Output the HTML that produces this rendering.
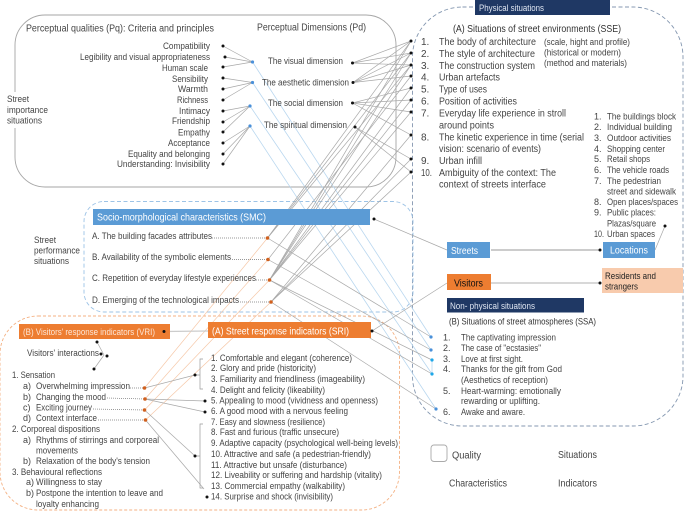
<!DOCTYPE html>
<html><head><meta charset="utf-8"><style>
html,body{margin:0;padding:0;background:#fff;width:685px;height:512px;overflow:hidden}
svg{display:block;filter:blur(.3px)}
text{font-family:"Liberation Sans",sans-serif;font-size:9px;fill:#444;lengthAdjust:spacingAndGlyphs}
.g line{stroke:#a8a8a8;stroke-width:.7}
.b line{stroke:#b9d7ef;stroke-width:.8}
.o line{stroke:#f6c8a8;stroke-width:.7}
.k circle{fill:#111;r:1.5px}
.bd circle{fill:#4a90d9;r:1.6px}
.od circle{fill:#d0601e;r:1.8px}
.w{fill:#fff}
.d line{stroke:#777;stroke-width:.7;stroke-dasharray:1 1}
</style></head><body>
<svg width="685" height="512" viewBox="0 0 685 512" xmlns="http://www.w3.org/2000/svg">
<rect width="685" height="512" fill="#fff"/>
<!-- containers -->
<rect x="15" y="15" width="381" height="172" rx="30" fill="none" stroke="#a6a6a6" stroke-width=".9"/>
<rect x="5" y="92" width="20" height="36" fill="#fff"/>
<rect x="412.5" y="7" width="270.5" height="419" rx="50" fill="none" stroke="#8497b0" stroke-width=".9" stroke-dasharray="4 2.5"/>
<rect x="84" y="201.5" width="329" height="110.5" rx="20" fill="none" stroke="#9dc3e6" stroke-width=".9" stroke-dasharray="4 2.5"/>
<rect x="0" y="316" width="399.5" height="194" rx="38" fill="none" stroke="#f4b183" stroke-width=".9" stroke-dasharray="3 2"/>
<!-- blue connectors -->
<g class="b">
<line x1="252.5" y1="62" x2="431" y2="337"/><line x1="252.5" y1="82.5" x2="431" y2="350"/>
<line x1="250" y1="106" x2="432" y2="374"/><line x1="250" y1="126" x2="436" y2="409"/>
<line x1="432" y1="360" x2="432" y2="374"/>
</g>
<!-- orange connectors -->
<g class="o">
<line x1="267.5" y1="238" x2="144.5" y2="388"/><line x1="268" y1="259.5" x2="145" y2="399"/>
<line x1="269.5" y1="280" x2="144.5" y2="410"/><line x1="271" y1="302" x2="145.5" y2="420"/>
</g>
<!-- gray connectors -->
<g class="g">
<line x1="223" y1="46" x2="252.5" y2="62"/><line x1="225" y1="57" x2="252.5" y2="62"/><line x1="223" y1="67" x2="252.5" y2="62"/>
<line x1="223" y1="78" x2="252.5" y2="82.5"/><line x1="223" y1="89" x2="252.5" y2="82.5"/><line x1="223" y1="100" x2="252.5" y2="82.5"/>
<line x1="223" y1="111" x2="250" y2="106"/><line x1="223" y1="122" x2="250" y2="106"/><line x1="223" y1="132" x2="250" y2="106"/>
<line x1="223" y1="143" x2="250" y2="126"/><line x1="223" y1="154" x2="250" y2="126"/><line x1="223" y1="164" x2="250" y2="126"/>
<line x1="352.5" y1="63" x2="411" y2="41"/><line x1="352.5" y1="63" x2="411" y2="53"/><line x1="352.5" y1="63" x2="411" y2="65"/>
<line x1="353" y1="82.5" x2="411" y2="41"/><line x1="353" y1="82.5" x2="411" y2="53"/><line x1="353" y1="82.5" x2="411" y2="65"/><line x1="353" y1="82.5" x2="411" y2="76"/>
<line x1="352.5" y1="103" x2="411" y2="88"/><line x1="352.5" y1="103" x2="411" y2="100"/><line x1="352.5" y1="103" x2="411" y2="112"/><line x1="352.5" y1="103" x2="411" y2="135"/>
<line x1="355" y1="127" x2="411" y2="159"/><line x1="355" y1="127" x2="411" y2="172"/>
<line x1="267.5" y1="238" x2="411" y2="41"/><line x1="267.5" y1="238" x2="411" y2="53"/><line x1="267.5" y1="238" x2="411" y2="65"/>
<line x1="268" y1="259.5" x2="411" y2="76"/><line x1="269.5" y1="280" x2="411" y2="41"/><line x1="269.5" y1="280" x2="411" y2="53"/><line x1="269.5" y1="280" x2="411" y2="65"/>
<line x1="269.5" y1="280" x2="411" y2="88"/><line x1="269.5" y1="280" x2="411" y2="100"/><line x1="269.5" y1="280" x2="411" y2="112"/>
<line x1="271" y1="302" x2="411" y2="135"/><line x1="271" y1="302" x2="411" y2="159"/><line x1="271" y1="302" x2="411" y2="172"/>
<line x1="267.5" y1="238" x2="431" y2="337"/><line x1="268" y1="259.5" x2="431" y2="350"/>
<line x1="269.5" y1="280" x2="432" y2="360"/><line x1="269.5" y1="280" x2="432" y2="374"/><line x1="271" y1="302" x2="436" y2="409"/>
<line x1="144.5" y1="388" x2="195" y2="375"/><line x1="145" y1="399" x2="205" y2="401"/><line x1="145" y1="399" x2="205" y2="412"/>
<line x1="144.5" y1="410" x2="195" y2="456"/><line x1="145.5" y1="420" x2="204" y2="489"/>
<line x1="447" y1="250" x2="374" y2="219"/><line x1="447" y1="283" x2="372" y2="331"/>
<line x1="655" y1="250" x2="665" y2="226"/>
<line x1="97" y1="342" x2="104" y2="355"/><line x1="104" y1="355" x2="94" y2="369"/>
</g>
<!-- arrows -->
<line x1="491" y1="250" x2="601" y2="250" stroke="#777" stroke-width=".8"/>
<line x1="491" y1="283" x2="600" y2="283" stroke="#ccc" stroke-width="1.6"/>
<line x1="165" y1="331.5" x2="208" y2="331" stroke="#ccc" stroke-width="1.3"/>
<!-- brackets -->
<path d="M203 359H200V389H203M195 375H200M203 424H200V488H203M195 456H200" fill="none" stroke="#999" stroke-width=".7"/>
<!-- dotted leaders -->
<g class="d">
<line x1="212" y1="238" x2="267" y2="238"/><line x1="232" y1="259.5" x2="268" y2="259.5"/><line x1="256" y1="280" x2="269" y2="280"/><line x1="240" y1="302" x2="271" y2="302"/>
<line x1="130" y1="388" x2="144" y2="388"/><line x1="107" y1="398" x2="145" y2="399"/><line x1="93" y1="409" x2="144" y2="410"/><line x1="98" y1="420" x2="145" y2="420"/>
</g>
<!-- bars -->
<rect x="475" y="0" width="135" height="15" fill="#1f3864"/>
<rect x="447" y="298" width="137" height="14.5" fill="#1f3864"/>
<rect x="93" y="209" width="277" height="16" fill="#5b9bd5"/>
<rect x="19" y="324" width="151" height="15" fill="#ed7d31"/>
<rect x="208" y="322" width="163" height="16" fill="#ed7d31"/>
<rect x="447" y="242" width="43" height="16" fill="#5b9bd5"/>
<rect x="603" y="242" width="52" height="16" fill="#5b9bd5"/>
<rect x="447" y="274" width="44" height="16" fill="#ed7d31"/>
<rect x="602" y="268" width="81" height="25" fill="#f8cbad"/>
<rect x="431" y="445" width="16" height="16.5" rx="3" fill="#fff" stroke="#aaa" stroke-width=".9"/>
<!-- dots -->
<g class="k">
<circle cx="223" cy="46"/><circle cx="225" cy="57"/><circle cx="223" cy="67"/><circle cx="223" cy="78"/><circle cx="223" cy="89"/><circle cx="223" cy="100"/><circle cx="223" cy="111"/><circle cx="223" cy="122"/><circle cx="223" cy="132"/><circle cx="223" cy="143"/><circle cx="223" cy="154"/><circle cx="223" cy="164"/>
<circle cx="352.5" cy="63"/><circle cx="353" cy="82.5"/><circle cx="352.5" cy="103"/><circle cx="355" cy="127"/>
<circle cx="411" cy="41"/><circle cx="411" cy="53"/><circle cx="411" cy="65"/><circle cx="411" cy="76"/><circle cx="411" cy="88"/><circle cx="411" cy="100"/><circle cx="411" cy="112"/><circle cx="411" cy="135"/><circle cx="411" cy="159"/><circle cx="411" cy="172"/>
<circle cx="164" cy="331.5"/><circle cx="97" cy="342"/><circle cx="107" cy="356"/><circle cx="101" cy="354"/><circle cx="94" cy="369"/>
<circle cx="195" cy="375"/><circle cx="205" cy="401"/><circle cx="205" cy="412"/><circle cx="195" cy="456"/><circle cx="207" cy="497"/>
<circle cx="374" cy="219"/><circle cx="372" cy="331"/><circle cx="665" cy="226"/><circle cx="600" cy="250"/><circle cx="600" cy="283"/>
</g>
<g class="bd">
<circle cx="252.5" cy="62"/><circle cx="252.5" cy="82.5"/><circle cx="250" cy="106"/><circle cx="250" cy="126"/>
<circle cx="431" cy="337"/><circle cx="431" cy="350"/><circle cx="432" cy="360" style="fill:#1ea7e8"/><circle cx="432" cy="374" style="fill:#1ea7e8"/><circle cx="436" cy="409"/>
</g>
<g class="od">
<circle cx="267.5" cy="238"/><circle cx="268" cy="259.5"/><circle cx="269.5" cy="280"/><circle cx="271" cy="302"/>
<circle cx="144.5" cy="388"/><circle cx="145" cy="399"/><circle cx="144.5" cy="410"/><circle cx="145.5" cy="420"/>
</g>
<!-- top-left text -->
<text x="26" y="31.5" textLength="188" lengthAdjust="spacingAndGlyphs" font-size="10" style="font-size:10px">Perceptual qualities (Pq): Criteria and principles</text>
<text x="257" y="30.5" textLength="109" lengthAdjust="spacingAndGlyphs" style="font-size:10px">Perceptual Dimensions (Pd)</text>
<text x="163" y="49" textLength="47" lengthAdjust="spacingAndGlyphs">Compatibility</text>
<text x="80" y="60" textLength="130" lengthAdjust="spacingAndGlyphs">Legibility and visual appropriateness</text>
<text x="162" y="71" textLength="46" lengthAdjust="spacingAndGlyphs">Human scale</text>
<text x="172" y="82" textLength="36" lengthAdjust="spacingAndGlyphs">Sensibility</text>
<text x="178" y="92" textLength="30" lengthAdjust="spacingAndGlyphs">Warmth</text>
<text x="177" y="103" textLength="31" lengthAdjust="spacingAndGlyphs">Richness</text>
<text x="179" y="114" textLength="31" lengthAdjust="spacingAndGlyphs">Intimacy</text>
<text x="172" y="124" textLength="38" lengthAdjust="spacingAndGlyphs">Friendship</text>
<text x="178" y="135.5" textLength="32" lengthAdjust="spacingAndGlyphs">Empathy</text>
<text x="168" y="146" textLength="42" lengthAdjust="spacingAndGlyphs">Acceptance</text>
<text x="128" y="157" textLength="82" lengthAdjust="spacingAndGlyphs">Equality and belonging</text>
<text x="117" y="167" textLength="93" lengthAdjust="spacingAndGlyphs">Understanding: Invisibility</text>
<text x="268" y="64" textLength="75" lengthAdjust="spacingAndGlyphs">The visual dimension</text>
<text x="262" y="85.5" textLength="87" lengthAdjust="spacingAndGlyphs">The aesthetic dimension</text>
<text x="268" y="106" textLength="75" lengthAdjust="spacingAndGlyphs">The social dimension</text>
<text x="264" y="128" textLength="83" lengthAdjust="spacingAndGlyphs">The spiritual dimension</text>
<text x="7" y="102" textLength="22" lengthAdjust="spacingAndGlyphs">Street</text>
<text x="7" y="113" textLength="41" lengthAdjust="spacingAndGlyphs">importance</text>
<text x="7" y="123.5" textLength="35" lengthAdjust="spacingAndGlyphs">situations</text>
<!-- SSE -->
<text x="479" y="11" textLength="65" lengthAdjust="spacingAndGlyphs" style="fill:#dfe6f2">Physical situations</text>
<text x="453" y="32" textLength="168" lengthAdjust="spacingAndGlyphs" style="font-size:10px;fill:#333">(A) Situations of street environments (SSE)</text>
<g style="font-size:10px">
<text x="421" y="45" style="font-size:10px">1.</text><text x="439" y="45" textLength="97" lengthAdjust="spacingAndGlyphs" style="font-size:10px">The body of architecture</text>
<text x="421" y="57" style="font-size:10px">2.</text><text x="439" y="57" textLength="96" lengthAdjust="spacingAndGlyphs" style="font-size:10px">The style of architecture</text>
<text x="421" y="69" style="font-size:10px">3.</text><text x="439" y="69" textLength="96" lengthAdjust="spacingAndGlyphs" style="font-size:10px">The construction system</text>
<text x="421" y="80.5" style="font-size:10px">4.</text><text x="439" y="80.5" textLength="61" lengthAdjust="spacingAndGlyphs" style="font-size:10px">Urban artefacts</text>
<text x="421" y="92.5" style="font-size:10px">5.</text><text x="439" y="92.5" textLength="48" lengthAdjust="spacingAndGlyphs" style="font-size:10px">Type of uses</text>
<text x="421" y="104.5" style="font-size:10px">6.</text><text x="439" y="104.5" textLength="78" lengthAdjust="spacingAndGlyphs" style="font-size:10px">Position of activities</text>
<text x="421" y="116.5" style="font-size:10px">7.</text><text x="439" y="116.5" textLength="127" lengthAdjust="spacingAndGlyphs" style="font-size:10px">Everyday life experience in stroll</text>
<text x="439" y="128.5" textLength="55" lengthAdjust="spacingAndGlyphs" style="font-size:10px">around points</text>
<text x="421" y="140.5" style="font-size:10px">8.</text><text x="439" y="140.5" textLength="145" lengthAdjust="spacingAndGlyphs" style="font-size:10px">The kinetic experience in time (serial</text>
<text x="439" y="152" textLength="102" lengthAdjust="spacingAndGlyphs" style="font-size:10px">vision: scenario of events)</text>
<text x="421" y="164" style="font-size:10px">9.</text><text x="439" y="164" textLength="43" lengthAdjust="spacingAndGlyphs" style="font-size:10px">Urban infill</text>
<text x="421" y="176" textLength="11" lengthAdjust="spacingAndGlyphs" style="font-size:10px">10.</text><text x="439" y="176" textLength="117" lengthAdjust="spacingAndGlyphs" style="font-size:10px">Ambiguity of the context: The</text>
<text x="439" y="187.5" textLength="107" lengthAdjust="spacingAndGlyphs" style="font-size:10px">context of streets interface</text>
</g>
<text x="544" y="45" textLength="86" lengthAdjust="spacingAndGlyphs">(scale, hight and profile)</text>
<text x="544" y="55.5" textLength="77" lengthAdjust="spacingAndGlyphs">(historical or modern)</text>
<text x="544" y="66" textLength="83" lengthAdjust="spacingAndGlyphs">(method and materials)</text>
<!-- right list -->
<text x="594" y="119.5">1.</text><text x="607" y="119.5" textLength="69" lengthAdjust="spacingAndGlyphs">The buildings block</text>
<text x="594" y="130">2.</text><text x="607" y="130" textLength="65" lengthAdjust="spacingAndGlyphs">Individual building</text>
<text x="594" y="141">3.</text><text x="607" y="141" textLength="64" lengthAdjust="spacingAndGlyphs">Outdoor activities</text>
<text x="594" y="152">4.</text><text x="607" y="152" textLength="58" lengthAdjust="spacingAndGlyphs">Shopping center</text>
<text x="594" y="162">5.</text><text x="607" y="162" textLength="43" lengthAdjust="spacingAndGlyphs">Retail shops</text>
<text x="594" y="173">6.</text><text x="607" y="173" textLength="62" lengthAdjust="spacingAndGlyphs">The vehicle roads</text>
<text x="594" y="184">7.</text><text x="607" y="184" textLength="54" lengthAdjust="spacingAndGlyphs">The pedestrian</text>
<text x="607" y="194.5" textLength="69" lengthAdjust="spacingAndGlyphs">street and sidewalk</text>
<text x="594" y="205">8.</text><text x="607" y="205" textLength="71" lengthAdjust="spacingAndGlyphs">Open places/spaces</text>
<text x="594" y="215.5">9.</text><text x="607" y="215.5" textLength="49" lengthAdjust="spacingAndGlyphs">Public places:</text>
<text x="607" y="226.5" textLength="49" lengthAdjust="spacingAndGlyphs">Plazas/square</text>
<text x="594" y="237" textLength="10" lengthAdjust="spacingAndGlyphs">10.</text><text x="607" y="237" textLength="48" lengthAdjust="spacingAndGlyphs">Urban spaces</text>
<!-- boxes text -->
<text x="97" y="220.5" textLength="169" lengthAdjust="spacingAndGlyphs" style="font-size:10.5px;fill:#fff">Socio-morphological characteristics (SMC)</text>
<text x="23" y="335" textLength="132" lengthAdjust="spacingAndGlyphs" style="fill:#fde6d6">(B) Visitors' response indicators (VRI)</text>
<text x="212" y="334.5" textLength="137" lengthAdjust="spacingAndGlyphs" style="font-size:10px;fill:#fff">(A) Street response indicators (SRI)</text>
<text x="451" y="254" textLength="27" lengthAdjust="spacingAndGlyphs" style="font-size:10px;fill:#fff">Streets</text>
<text x="610" y="253.5" textLength="38" lengthAdjust="spacingAndGlyphs" style="font-size:10px;fill:#fff">Locations</text>
<text x="454" y="286.5" textLength="29" lengthAdjust="spacingAndGlyphs" style="font-size:10px;fill:#111">Visitors</text>
<text x="605" y="279" textLength="51" lengthAdjust="spacingAndGlyphs" style="fill:#222">Residents and</text>
<text x="605" y="289.5" textLength="33" lengthAdjust="spacingAndGlyphs" style="fill:#222">strangers</text>
<text x="450" y="309" textLength="85" lengthAdjust="spacingAndGlyphs" style="fill:#dfe6f2">Non- physical situations</text>
<!-- SMC -->
<text x="34" y="243" textLength="22" lengthAdjust="spacingAndGlyphs">Street</text>
<text x="34" y="253.5" textLength="46" lengthAdjust="spacingAndGlyphs">performance</text>
<text x="34" y="264" textLength="35" lengthAdjust="spacingAndGlyphs">situations</text>
<text x="92" y="239" textLength="120" lengthAdjust="spacingAndGlyphs">A. The building facades attributes</text>
<text x="92" y="260" textLength="139" lengthAdjust="spacingAndGlyphs">B. Availability of the symbolic elements</text>
<text x="92" y="281" textLength="164" lengthAdjust="spacingAndGlyphs">C. Repetition of everyday lifestyle experiences</text>
<text x="92" y="303" textLength="147" lengthAdjust="spacingAndGlyphs">D. Emerging of the technological impacts</text>
<!-- VRI -->
<text x="27" y="356" textLength="72" lengthAdjust="spacingAndGlyphs">Visitors' interactions</text>
<text x="12" y="378" textLength="43" lengthAdjust="spacingAndGlyphs">1. Sensation</text>
<text x="23" y="389">a)</text><text x="36" y="389" textLength="94" lengthAdjust="spacingAndGlyphs">Overwhelming impression</text>
<text x="23" y="400">b)</text><text x="36" y="400" textLength="70" lengthAdjust="spacingAndGlyphs">Changing the mood</text>
<text x="23" y="410.5">c)</text><text x="36" y="410.5" textLength="56" lengthAdjust="spacingAndGlyphs">Exciting journey</text>
<text x="23" y="421">d)</text><text x="36" y="421" textLength="61" lengthAdjust="spacingAndGlyphs">Context interface</text>
<text x="12" y="432" textLength="88" lengthAdjust="spacingAndGlyphs">2. Corporeal dispositions</text>
<text x="23" y="443">a)</text><text x="36" y="443" textLength="123" lengthAdjust="spacingAndGlyphs">Rhythms of stirrings and corporeal</text>
<text x="36" y="453.5" textLength="42" lengthAdjust="spacingAndGlyphs">movements</text>
<text x="23" y="464">b)</text><text x="36" y="464" textLength="114" lengthAdjust="spacingAndGlyphs">Relaxation of the body's tension</text>
<text x="12" y="475" textLength="90" lengthAdjust="spacingAndGlyphs">3. Behavioural reflections</text>
<text x="26" y="485">a)</text><text x="36" y="485" textLength="66" lengthAdjust="spacingAndGlyphs">Willingness to stay</text>
<text x="26" y="496">b)</text><text x="36" y="496" textLength="127" lengthAdjust="spacingAndGlyphs">Postpone the intention to leave and</text>
<text x="36" y="507" textLength="63" lengthAdjust="spacingAndGlyphs">loyalty enhancing</text>
<!-- SRI list -->
<text x="211" y="361" textLength="141" lengthAdjust="spacingAndGlyphs">1. Comfortable and elegant (coherence)</text>
<text x="211" y="371" textLength="105" lengthAdjust="spacingAndGlyphs">2. Glory and pride (historicity)</text>
<text x="211" y="382" textLength="154" lengthAdjust="spacingAndGlyphs">3. Familiarity and friendliness (imageability)</text>
<text x="211" y="393" textLength="114" lengthAdjust="spacingAndGlyphs">4. Delight and felicity (likeability)</text>
<text x="211" y="403.5" textLength="167" lengthAdjust="spacingAndGlyphs">5. Appealing to mood (vividness and openness)</text>
<text x="211" y="414" textLength="137" lengthAdjust="spacingAndGlyphs">6. A good mood with a nervous feeling</text>
<text x="211" y="425" textLength="114" lengthAdjust="spacingAndGlyphs">7. Easy and slowness (resilience)</text>
<text x="211" y="435" textLength="128" lengthAdjust="spacingAndGlyphs">8. Fast and furious (traffic unsecure)</text>
<text x="211" y="446" textLength="187" lengthAdjust="spacingAndGlyphs">9. Adaptive capacity (psychological well-being levels)</text>
<text x="211" y="457" textLength="160" lengthAdjust="spacingAndGlyphs">10. Attractive and safe (a pedestrian-friendly)</text>
<text x="211" y="468" textLength="136" lengthAdjust="spacingAndGlyphs">11. Attractive but unsafe (disturbance)</text>
<text x="211" y="478" textLength="171" lengthAdjust="spacingAndGlyphs">12. Liveability or suffering and hardship (vitality)</text>
<text x="211" y="489" textLength="134" lengthAdjust="spacingAndGlyphs">13. Commercial empathy (walkability)</text>
<text x="211" y="499.5" textLength="122" lengthAdjust="spacingAndGlyphs">14. Surprise and shock (invisibility)</text>
<!-- SSA -->
<text x="449" y="324.5" textLength="147" lengthAdjust="spacingAndGlyphs" style="fill:#333">(B) Situations of street atmospheres (SSA)</text>
<text x="443" y="340.5">1.</text><text x="461" y="340.5" textLength="95" lengthAdjust="spacingAndGlyphs">The captivating impression</text>
<text x="443" y="351">2.</text><text x="461" y="351" textLength="80" lengthAdjust="spacingAndGlyphs">The case of "ecstasies"</text>
<text x="443" y="362">3.</text><text x="461" y="362" textLength="62" lengthAdjust="spacingAndGlyphs">Love at first sight.</text>
<text x="443" y="372">4.</text><text x="461" y="372" textLength="101" lengthAdjust="spacingAndGlyphs">Thanks for the gift from God</text>
<text x="461" y="383" textLength="87" lengthAdjust="spacingAndGlyphs">(Aesthetics of reception)</text>
<text x="443" y="394">5.</text><text x="461" y="394" textLength="100" lengthAdjust="spacingAndGlyphs">Heart-warming: emotionally</text>
<text x="461" y="404" textLength="79" lengthAdjust="spacingAndGlyphs">rewarding or uplifting.</text>
<text x="443" y="415">6.</text><text x="461" y="415" textLength="64" lengthAdjust="spacingAndGlyphs">Awake and aware.</text>
<!-- legend -->
<text x="452" y="458.5" textLength="29" lengthAdjust="spacingAndGlyphs" style="font-size:10px">Quality</text>
<text x="558" y="458" textLength="39" lengthAdjust="spacingAndGlyphs" style="font-size:10px">Situations</text>
<text x="449" y="486.5" textLength="58" lengthAdjust="spacingAndGlyphs" style="font-size:10px">Characteristics</text>
<text x="558" y="486.5" textLength="39" lengthAdjust="spacingAndGlyphs" style="font-size:10px">Indicators</text>
</svg>
</body></html>
